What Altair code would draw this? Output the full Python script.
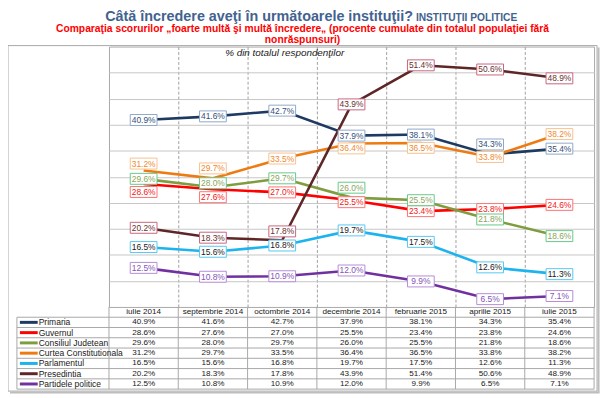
import altair as alt
import pandas as pd

# ---------------- data ----------------
months = ["iulie 2014", "septembrie 2014", "octombrie 2014", "decembrie 2014",
          "februarie 2015", "aprilie 2015", "iulie 2015"]
series = ["Primaria", "Guvernul", "Consiliul Judetean", "Curtea Constitutionala",
          "Parlamentul", "Presedintia", "Partidele politice"]
primaria = [40.9, 41.6, 42.7, 37.9, 38.1, 34.3, 35.4]
guvernul = [28.6, 27.6, 27.0, 25.5, 23.4, 23.8, 24.6]
consiliul = [29.6, 28.0, 29.7, 26.0, 25.5, 21.8, 18.6]
curtea = [31.2, 29.7, 33.5, 36.4, 36.5, 33.8, 38.2]
parlamentul = [16.5, 15.6, 16.8, 19.7, 17.5, 12.6, 11.3]
presedintia = [20.2, 18.3, 17.8, 43.9, 51.4, 50.6, 48.9]
partidele = [12.5, 10.8, 10.9, 12.0, 9.9, 6.5, 7.1]
all_values = [primaria, guvernul, consiliul, curtea, parlamentul, presedintia, partidele]

title_main = "Câtă încredere aveţi în următoarele instituţii?"
title_tag = "INSTITUŢII POLITICE"
subtitle_1 = "Comparaţia scorurilor „foarte multă şi multă încredere„ (procente cumulate din totalul populaţiei fără"
subtitle_2 = "nonrăspunsuri)"
inner_title = "% din totalul respondenţilor"

# ---------------- styles ----------------
FONT = "Liberation Sans"
line_colors = ["#1F3A62", "#FF0000", "#7F9C3F", "#EE7B12", "#1DB4EE", "#5E2626", "#7030A0"]
text_colors = ["#34507A", "#F01818", "#8AA55A", "#EE8A30", "#1A1A1A", "#6A3030", "#8455B8"]
box_colors = ["#8FA8C8", "#FF7272", "#66C888", "#F9C18F", "#55C8F2", "#C9657E", "#B58CD8"]
label_shift = [  # pixel nudges of the value boxes (layout only)
    [0, 0, 0, 0, 0, -10, 0],
    [8, 8, 0, 2, 0, 0, 0],
    [0, -4, 0, -10, 0, 0, 0],
    [-7, -10, 0, 5, 5, 0, 0],
    [0, 0, 0, 0, 0, 0, 0],
    [0, 0, -9, 0, 0, 0, 0],
    [0, 0, 0, 0, 0, 0, 0],
]

W, H = 490, 263          # plot area
T_TOP, T_BOT = 263, 346  # table vertical extent (pixels)
GRID = "#C6C6C6"
TBL = "#A8A8A8"

rows = []
for si, (name, vals) in enumerate(zip(series, all_values)):
    for mi, v in enumerate(vals):
        rows.append(dict(series=name, row=si + 1, mi=mi, value=v,
                         label=f"{v:.1f}%", lc=line_colors[si], tc=text_colors[si],
                         bc=box_colors[si], dy=label_shift[si][mi]))
df = pd.DataFrame(rows)

hdr = pd.DataFrame(dict(mi=list(range(len(months))), row=[0] * len(months), label=months))
table_df = pd.concat([hdr, df[["mi", "row", "label"]]], ignore_index=True)
legend_df = pd.DataFrame(dict(series=series, row=list(range(1, len(series) + 1)), lc=line_colors))
hlines = pd.DataFrame(dict(b=[r + 0.5 for r in range(len(series) + 1)]))
vlines = pd.DataFrame(dict(mb=[i - 0.5 for i in range(len(months) + 1)]))
one = pd.DataFrame(dict(a=[0]))

xscale = alt.Scale(domain=[-0.5, len(months) - 0.5], nice=False, zero=False)
xaxis = alt.Axis(values=[i + 0.5 for i in range(len(months) - 1)], grid=True, labels=False,
                 ticks=False, domain=False, title=None, gridDash=[3, 2], gridColor="#A0A0A0",
                 gridWidth=1)


def X(field):
    return alt.X(f"{field}:Q", scale=xscale, axis=xaxis)


yscale = alt.Scale(domain=[5, 55], nice=False, zero=False)
tscale = alt.Scale(domain=[-0.5, len(series) + 0.5], range=[T_TOP, T_BOT], nice=False, zero=False)


def TY(field):
    return alt.Y(f"{field}:Q", scale=tscale, axis=None)


base = alt.Chart(df)

lines = base.mark_line(strokeWidth=2.6).encode(
    x=X("mi"),
    y=alt.Y("value:Q", scale=yscale,
            axis=alt.Axis(values=list(range(10, 55, 5)), grid=True, labels=False, ticks=False,
                          domain=False, title=None, gridColor=GRID, gridWidth=1)),
    detail="series:N",
    color=alt.Color("lc:N", scale=None),
    order="mi:Q",
)

box_path = "M-1.93,-0.79H1.93V0.79H-1.93Z"
label_layers = []
for d in sorted(set(df["dy"])):
    sub = base.transform_filter(f"datum.dy == {d}")
    label_layers.append(sub.mark_point(shape=box_path, size=196, filled=True, fill="white",
                                       strokeWidth=1, opacity=1, yOffset=int(d)).encode(
        x=X("mi"),
        y=alt.Y("value:Q", scale=yscale, axis=None),
        stroke=alt.Stroke("bc:N", scale=None),
    ))
for d in sorted(set(df["dy"])):
    sub = base.transform_filter(f"datum.dy == {d}")
    label_layers.append(sub.mark_text(font=FONT, fontSize=8.5, baseline="middle",
                                      yOffset=int(d)).encode(
        x=X("mi"),
        y=alt.Y("value:Q", scale=yscale, axis=None),
        text="label:N",
        color=alt.Color("tc:N", scale=None),
    ))

# table
tbl_text = alt.Chart(table_df).mark_text(font=FONT, fontSize=8.2, color="#202020", baseline="middle").encode(
    x=X("mi"), y=TY("row"), text="label:N")
tbl_h = alt.Chart(hlines).mark_rule(color=TBL, strokeWidth=1).encode(
    x=alt.value(-93), x2=alt.value(W), y=TY("b"))
tbl_v = alt.Chart(vlines).mark_rule(color=TBL, strokeWidth=1).encode(
    x=X("mb"), y=alt.value(T_TOP), y2=alt.value(T_BOT))
tbl_left = alt.Chart(one).mark_rule(color=TBL, strokeWidth=1).encode(
    x=alt.value(-93), y=alt.value(T_TOP + (T_BOT - T_TOP) / 8), y2=alt.value(T_BOT))
leg_line = alt.Chart(legend_df).mark_rule(strokeWidth=3).encode(
    x=alt.value(-90), x2=alt.value(-72), y=TY("row"), color=alt.Color("lc:N", scale=None))
leg_text = alt.Chart(legend_df).mark_text(font=FONT, fontSize=8.6, color="#202020", align="left",
                                          baseline="middle").encode(
    x=alt.value(-71), y=TY("row"), text="series:N")

# frame
frame = alt.Chart(one).mark_rect(filled=False, stroke="#A8A8A8", strokeWidth=1).encode(
    x=alt.value(-102), x2=alt.value(493), y=alt.value(-1), y2=alt.value(348))
shadow_r = alt.Chart(one).mark_rule(color="#BDBDBD", strokeWidth=2).encode(
    x=alt.value(494.5), y=alt.value(1), y2=alt.value(349.5))
shadow_b = alt.Chart(one).mark_rule(color="#BDBDBD", strokeWidth=2).encode(
    x=alt.value(-100), x2=alt.value(495.5), y=alt.value(349.5))

# titles
t1 = alt.Chart(one).mark_text(text=title_main, font=FONT, fontSize=14.5, fontWeight="bold",
                              color="#42628F", align="right", baseline="alphabetic").encode(
    x=alt.value(307), y=alt.value(-26))
t2 = alt.Chart(one).mark_text(text=title_tag, font=FONT, fontSize=10.3, fontWeight="bold",
                              color="#42628F", align="left", baseline="alphabetic").encode(
    x=alt.value(310), y=alt.value(-26))
s1 = alt.Chart(one).mark_text(text=subtitle_1, font=FONT, fontSize=10.4, fontWeight="bold",
                              color="#FF0000", align="center", baseline="alphabetic").encode(
    x=alt.value(195.5), y=alt.value(-15))
s2 = alt.Chart(one).mark_text(text=subtitle_2, font=FONT, fontSize=10.4, fontWeight="bold",
                              color="#FF0000", align="center", baseline="alphabetic").encode(
    x=alt.value(195.5), y=alt.value(-4))
it = alt.Chart(one).mark_text(text=inner_title, font=FONT, fontSize=10, fontStyle="italic",
                              color="#202020", align="center", baseline="middle").encode(
    x=alt.value(177.5), y=alt.value(7))

chart = alt.layer(
    frame, shadow_r, shadow_b,
    lines, *label_layers,
    tbl_h, tbl_v, tbl_left, tbl_text, leg_line, leg_text,
    t1, t2, s1, s2, it,
).resolve_scale(y="independent").properties(
    width=W, height=H,
    autosize=alt.AutoSizeParams(type="none"),
    padding={"left": 102, "top": 37, "right": 8, "bottom": 90},
    background="white",
).configure_view(stroke="#A8A8A8", strokeWidth=1)

chart.save("out.html", embed_options={"renderer": "svg", "actions": False})
